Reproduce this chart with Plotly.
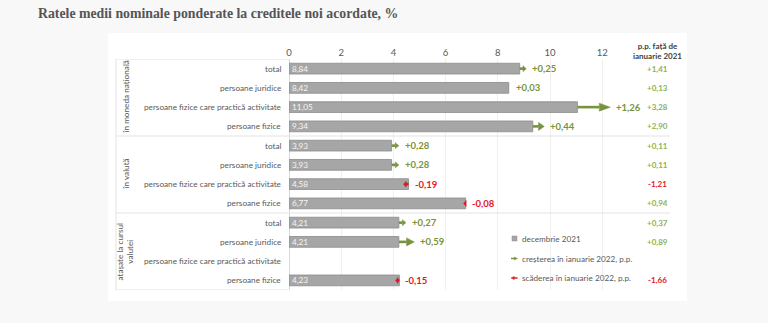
import plotly.graph_objects as go

# ---- data ----
groups = ["în moneda națională", "în valută", "atașate la cursul<br>valutei"]
categories = ["total", "persoane juridice",
              "persoane fizice care practică activitate", "persoane fizice"]
dec_2021 = [8.84, 8.42, 11.05, 9.34,
            3.93, 3.93, 4.58, 6.77,
            4.21, 4.21, None, 4.23]
change_jan_2022 = [0.25, 0.03, 1.26, 0.44,
                   0.28, 0.28, -0.19, -0.08,
                   0.27, 0.59, None, -0.15]
change_vs_jan_2021 = [1.41, 0.13, 3.28, 2.90,
                      0.11, 0.11, -1.21, 0.94,
                      0.37, 0.89, None, -1.66]
x_ticks = [0, 2, 4, 6, 8, 10, 12]
legend_labels = ["decembrie 2021", "creșterea în ianuarie 2022, p.p.",
                 "scăderea în ianuarie 2022, p.p."]

# ---- styling / geometry ----
W, H = 768, 323
PL, PR, PT, PB = 289, 687, 59, 290          # plot area in pixels
PPU = 26.1                                   # pixels per x unit
X_MAX = (PR - PL) / PPU
N = len(dec_2021)
ROW_PX = (PB - PT) / N

GREEN = "#77933c"
GREEN_LIGHT = "#8fb150"
RED = "#e3141c"
BAR = "#a6a6a6"
TXT = "#595959"
LINE = "#e3e3e3"
FONT = "Lato, 'Open Sans', sans-serif"
SMALL = 8.2


def fmt(v, sign=False):
    s = f"{v:+.2f}" if sign else f"{v:.2f}"
    return s.replace(".", ",")


def px_x(px):
    return (px - PL) / PPU


def px_y(py):
    return (py - PT) / ROW_PX - 0.5


def paper_x(px):
    return (px - PL) / (PR - PL)


def paper_y(py):
    return (PB - py) / (PB - PT)


rows = list(range(N))
cat_labels = categories * len(groups)

fig = go.Figure()

fig.add_trace(go.Bar(
    y=rows, x=dec_2021, orientation="h",
    marker=dict(color=BAR, line=dict(color="#8c8c8c", width=0.8)),
    width=0.56,
    text=[fmt(v) if v is not None else "" for v in dec_2021],
    textposition="inside", insidetextanchor="start",
    textfont=dict(color="#f4f4f4", size=8.2, family=FONT),
    constraintext="none",
    hoverinfo="skip", showlegend=False,
))

shapes = []
annotations = []

# white panel behind the chart
shapes.append(dict(type="rect", xref="paper", yref="paper", layer="below",
                   x0=paper_x(108), x1=paper_x(687), y0=paper_y(301), y1=paper_y(33),
                   fillcolor="white", line=dict(width=0)))

# category axis box and group separators
box_l, box_r = paper_x(116), paper_x(289)
sep_r = paper_x(670)
shapes.append(dict(type="line", xref="paper", yref="y", x0=box_l, x1=box_r,
                   y0=-0.5, y1=-0.5, line=dict(color=LINE, width=1)))
shapes.append(dict(type="line", xref="paper", yref="y", x0=box_l, x1=box_r,
                   y0=N - 0.5, y1=N - 0.5, line=dict(color=LINE, width=1)))
shapes.append(dict(type="line", xref="paper", yref="y", x0=box_l, x1=box_l,
                   y0=-0.5, y1=N - 0.5, line=dict(color=LINE, width=1)))
for g in range(1, len(groups)):
    yb = g * len(categories) - 0.5
    shapes.append(dict(type="line", xref="paper", yref="y", x0=box_l, x1=sep_r,
                       y0=yb, y1=yb, line=dict(color=LINE, width=1.2)))


def arrow(x0, x1, y, color, shaft=2.6, head_h=4.0):
    """Arrow from x0 to x1 (data units) on row y, drawn as shaft + head."""
    length_px = abs(x1 - x0) * PPU
    if length_px < 1.2:
        return
    d = 1 if x1 > x0 else -1
    head_px = min(11.0, max(2.5, 0.5 * length_px))
    half_h = (head_h if length_px >= 8 else head_h - 1) / ROW_PX
    hx = x1 - d * head_px / PPU
    if abs(hx - x0) * PPU > 0.5:
        shapes.append(dict(type="line", xref="x", yref="y", x0=x0, x1=hx,
                           y0=y, y1=y, line=dict(color=color, width=shaft)))
    shapes.append(dict(type="path", xref="x", yref="y",
                       path=f"M {hx},{y - half_h} L {x1},{y} L {hx},{y + half_h} Z",
                       fillcolor=color, line=dict(color=color, width=0.5)))


for i in rows:
    # category labels
    annotations.append(dict(xref="paper", yref="y", x=paper_x(283), y=i,
                            text=cat_labels[i], showarrow=False, xanchor="right",
                            font=dict(size=SMALL, color=TXT, family=FONT)))
    v, d, yy = dec_2021[i], change_jan_2022[i], change_vs_jan_2021[i]
    if v is None:
        continue
    col = GREEN if d >= 0 else RED
    arrow(v, v + d, i, col)
    annotations.append(dict(xref="x", yref="y", x=max(v, v + d), y=i, xshift=4,
                            text=f"<b>{fmt(d, True)}</b>", showarrow=False,
                            xanchor="left",
                            font=dict(size=9.5, color=col, family=FONT)))
    annotations.append(dict(xref="x", yref="y", x=px_x(657), y=i,
                            text=f"<b>{fmt(yy, True)}</b>", showarrow=False,
                            xanchor="center",
                            font=dict(size=8, color=GREEN_LIGHT if yy >= 0 else RED,
                                      family=FONT)))

# group labels (vertical)
for g, name in enumerate(groups):
    yc = g * len(categories) + (len(categories) - 1) / 2
    annotations.append(dict(xref="paper", yref="y", x=paper_x(125), y=yc,
                            xanchor="center", yanchor="middle",
                            text=name, showarrow=False, textangle=-90,
                            font=dict(size=SMALL, color=TXT, family=FONT)))

# right column header
annotations.append(dict(xref="x", yref="paper", x=px_x(657), y=paper_y(51.5),
                        xanchor="center", yanchor="middle",
                        text="<b>p.p. față de<br>ianuarie 2021</b>", showarrow=False,
                        font=dict(size=8, color="#404040", family=FONT)))

# legend
leg_x = px_x(519.5)
leg_y = [px_y(238.5), px_y(258.5), px_y(278)]
shapes.append(dict(type="rect", xref="x", yref="y",
                   x0=px_x(512), x1=px_x(517), y0=px_y(236), y1=px_y(241),
                   fillcolor=BAR, line=dict(color="#8c8c8c", width=0.5)))
arrow(px_x(511), px_x(517.5), leg_y[1], GREEN, shaft=1.5, head_h=2.5)
arrow(px_x(517.5), px_x(511), leg_y[2], RED, shaft=1.5, head_h=2.5)
for lbl, ly in zip(legend_labels, leg_y):
    annotations.append(dict(xref="x", yref="y", x=leg_x, y=ly, text=lbl,
                            showarrow=False, xanchor="left",
                            font=dict(size=SMALL, color=TXT, family=FONT)))

fig.update_layout(
    width=W, height=H,
    margin=dict(l=PL, r=W - PR, t=PT, b=H - PB, pad=0),
    paper_bgcolor="#f8f8f8", plot_bgcolor="rgba(0,0,0,0)",
    title=dict(text="<b>Ratele medii nominale ponderate la creditele noi acordate, %</b>",
               xref="container", yref="container", x=38 / W, y=1 - 13 / H,
               xanchor="left", yanchor="middle",
               font=dict(family="'Liberation Serif', serif", size=13.8, color="#555555")),
    xaxis=dict(range=[0, X_MAX], side="top", tickvals=x_ticks,
               ticktext=[str(t) for t in x_ticks], showgrid=True, gridcolor="#efefef",
               gridwidth=1, zeroline=True, zerolinecolor="#d9d9d9", zerolinewidth=1,
               showline=False, ticks="", tickfont=dict(size=9.5, color=TXT, family=FONT),
               fixedrange=True),
    yaxis=dict(range=[N - 0.5, -0.5], showticklabels=False, showgrid=False,
               zeroline=False, showline=False, fixedrange=True),
    shapes=shapes, annotations=annotations,
    bargap=0.4, showlegend=False,
)

fig.write_html("out.html")
